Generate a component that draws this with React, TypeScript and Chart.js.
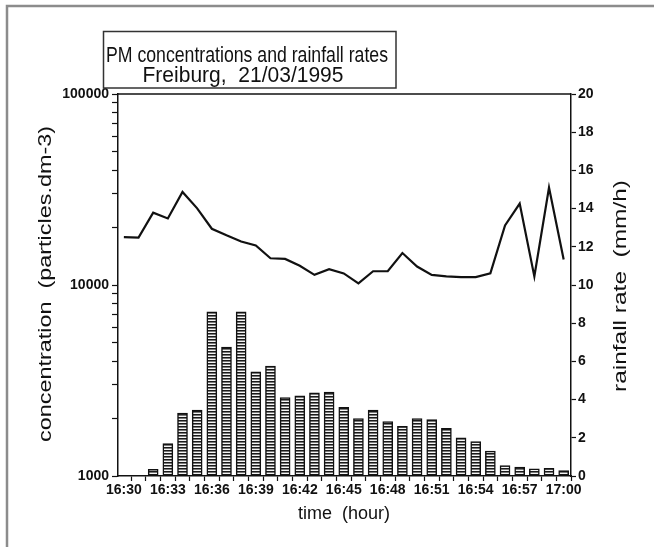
import React, { useEffect, useRef } from "react";
import { Chart, registerables } from "chart.js";

Chart.register(...registerables);

// minutes after 16:30
const minutes = [0, 1, 2, 3, 4, 5, 6, 7, 8, 9, 10, 11, 12, 13, 14, 15, 16, 17, 18, 19, 20, 21, 22, 23, 24, 25, 26, 27, 28, 29, 30];
const timeTickLabels = ["16:30", "16:33", "16:36", "16:39", "16:42", "16:45", "16:48", "16:51", "16:54", "16:57", "17:00"];

// PM concentration (particles.dm-3), one value per minute 16:30..17:00
const concentration = [17800, 17700, 23900, 22300, 30700, 25200, 19700, 18200, 16900, 16100, 13800, 13700, 12600, 11300, 12100, 11500, 10200, 11800, 11800, 14700, 12500, 11300, 11100, 11000, 11000, 11500, 20500, 26700, 11100, 32400, 13600];

// rainfall rate (mm/h), one bar per minute 16:32..17:00
const rainMinutes = [2, 3, 4, 5, 6, 7, 8, 9, 10, 11, 12, 13, 14, 15, 16, 17, 18, 19, 20, 21, 22, 23, 24, 25, 26, 27, 28, 29, 30];
const rainfall = [0.35, 1.7, 3.3, 3.45, 8.6, 6.75, 8.6, 5.45, 5.75, 4.1, 4.2, 4.35, 4.4, 3.6, 3.0, 3.45, 2.85, 2.6, 3.0, 2.95, 2.5, 2.0, 1.8, 1.3, 0.55, 0.47, 0.37, 0.4, 0.28];

const leftTicks = [1000, 2000, 3000, 4000, 5000, 6000, 7000, 8000, 9000, 10000, 20000, 30000, 40000, 50000, 60000, 70000, 80000, 90000, 100000];
const leftTickLabels = ["1000", "10000", "100000"];

const titleLine1 = "PM concentrations and rainfall rates";
const titleLine2 = "Freiburg,  21/03/1995";
const leftTitle = "concentration  (particles.dm-3)";
const rightTitle = "rainfall rate  (mm/h)";
const bottomTitle = "time  (hour)";

const INK = "#111";
const TICK_FONT = { family: "'Liberation Sans', Arial, sans-serif", size: 14, weight: "bold" as const };

function fitText(ctx: CanvasRenderingContext2D, text: string, x: number, y: number, width: number, font: string, rot: number) {
  ctx.save();
  ctx.translate(x, y);
  ctx.rotate(rot);
  ctx.font = font;
  const m = ctx.measureText(text).width;
  ctx.scale(width / m, 1);
  ctx.textAlign = "center";
  ctx.textBaseline = "alphabetic";
  ctx.fillStyle = INK;
  ctx.fillText(text, 0, 0);
  ctx.restore();
}

const decorPlugin = {
  id: "decor",
  beforeDraw(chart: any) {
    const ctx: CanvasRenderingContext2D = chart.ctx;
    ctx.save();
    ctx.fillStyle = "#fff";
    ctx.fillRect(0, 0, chart.width, chart.height);
    // outer frame
    ctx.strokeStyle = "#8c8c8c";
    ctx.lineWidth = 2.5;
    ctx.beginPath();
    ctx.moveTo(7, chart.height + 5);
    ctx.lineTo(7, 6);
    ctx.lineTo(chart.width + 5, 6);
    ctx.stroke();
    ctx.restore();
  },
  afterDraw(chart: any) {
    const ctx: CanvasRenderingContext2D = chart.ctx;
    const a = chart.chartArea;
    ctx.save();
    // top frame line of the plot
    ctx.strokeStyle = INK;
    ctx.lineWidth = 1.5;
    ctx.beginPath();
    ctx.moveTo(a.left, a.top);
    ctx.lineTo(a.right, a.top);
    ctx.stroke();
    // title box
    ctx.strokeStyle = "#333";
    ctx.lineWidth = 1.5;
    ctx.strokeRect(103.5, 31.5, 292.5, 56.5);
    const sans = "'Liberation Sans', Arial, sans-serif";
    fitText(ctx, titleLine1, 247, 61.5, 282, `22px ${sans}`, 0);
    fitText(ctx, titleLine2, 243, 81.5, 201, `22px ${sans}`, 0);
    // axis titles
    fitText(ctx, leftTitle, 51, (a.top + a.bottom) / 2 - 1, 316, `18px ${sans}`, -Math.PI / 2);
    fitText(ctx, rightTitle, 626, (a.top + a.bottom) / 2 + 1, 212, `18px ${sans}`, -Math.PI / 2);
    fitText(ctx, bottomTitle, 344, 519, 92, `18px ${sans}`, 0);
    ctx.restore();
  },
};

function makePattern(): CanvasPattern | string {
  const c = document.createElement("canvas");
  c.width = 1;
  c.height = 3;
  const g = c.getContext("2d");
  if (!g) return "#888";
  g.fillStyle = "#1a1a1a";
  g.fillRect(0, 0, 1, 1);
  g.fillStyle = "#7a7a7a";
  g.fillRect(0, 1, 1, 1);
  g.fillStyle = "#f5f5f5";
  g.fillRect(0, 2, 1, 1);
  const p = g.createPattern(c, "repeat");
  return p || "#888";
}

export default function App() {
  const ref = useRef<HTMLCanvasElement | null>(null);

  useEffect(() => {
    if (!ref.current) return;
    const pattern = makePattern();
    const chart = new Chart(ref.current, {
      type: "bar",
      data: {
        datasets: [
          {
            type: "line",
            label: "concentration",
            data: minutes.map((m, i) => ({ x: m, y: concentration[i] })),
            yAxisID: "yL",
            xAxisID: "x",
            borderColor: INK,
            borderWidth: 2.2,
            pointRadius: 0,
            tension: 0,
            fill: false,
            order: 1,
          } as any,
          {
            type: "bar",
            label: "rainfall",
            data: rainMinutes.map((m, i) => ({ x: m, y: rainfall[i] })),
            yAxisID: "yR",
            xAxisID: "x",
            backgroundColor: pattern as any,
            borderColor: INK,
            borderWidth: 1.5,
            borderSkipped: false,
            barThickness: 10,
            order: 2,
          } as any,
        ],
      },
      options: {
        responsive: false,
        animation: false,
        devicePixelRatio: 1,
        layout: { padding: { left: 48, right: 33, top: 94, bottom: 31 } },
        plugins: { legend: { display: false }, tooltip: { enabled: false }, title: { display: false } },
        scales: {
          x: {
            type: "linear",
            position: "bottom",
            min: -0.4,
            max: 30.5,
            offset: false,
            grid: { drawOnChartArea: false, drawTicks: true, tickLength: 5, tickColor: INK, tickWidth: 1.2 },
            border: { display: true, color: INK, width: 1.5 },
            ticks: {
              autoSkip: false,
              maxRotation: 0,
              padding: 1,
              color: INK,
              font: TICK_FONT,
              callback: (v: any) => (Number(v) % 3 === 0 ? timeTickLabels[Number(v) / 3] : ""),
            },
            afterBuildTicks: (s: any) => {
              s.ticks = minutes.map((v) => ({ value: v }));
            },
            afterFit: (s: any) => {
              s.height = 40;
            },
          },
          yL: {
            type: "logarithmic",
            position: "left",
            min: 1000,
            max: 100000,
            grid: { drawOnChartArea: false, drawTicks: true, tickLength: 6, tickColor: INK, tickWidth: 1.2 },
            border: { display: true, color: INK, width: 1.5 },
            ticks: {
              autoSkip: false,
              padding: 3,
              color: INK,
              font: TICK_FONT,
              callback: (v: any) => {
                const s = String(Math.round(Number(v)));
                return leftTickLabels.includes(s) ? s : "";
              },
            },
            afterBuildTicks: (s: any) => {
              s.ticks = leftTicks.map((v) => ({ value: v }));
            },
            afterFit: (s: any) => {
              s.width = 70;
            },
          },
          yR: {
            type: "linear",
            position: "right",
            min: 0,
            max: 20,
            grid: { drawOnChartArea: false, drawTicks: true, tickLength: 5, tickColor: INK, tickWidth: 1.2 },
            border: { display: true, color: INK, width: 1.5 },
            ticks: {
              stepSize: 2,
              autoSkip: false,
              padding: 2,
              color: INK,
              font: TICK_FONT,
            },
            afterFit: (s: any) => {
              s.width = 50;
            },
          },
        },
      },
      plugins: [decorPlugin],
    } as any);
    return () => chart.destroy();
  }, []);

  return (
    <div style={{ position: "absolute", left: 0, top: 0, width: 654, height: 547, background: "#fff" }}>
      <canvas ref={ref} width={654} height={547} style={{ display: "block", width: 654, height: 547 }} />
    </div>
  );
}
